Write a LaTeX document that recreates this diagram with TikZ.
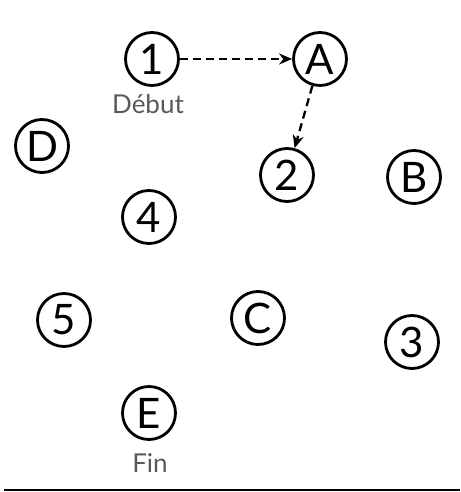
\documentclass[tikz,border=0pt]{standalone}
\usepackage{fontspec}
\setmainfont{Lato}
\usetikzlibrary{arrows.meta}
\begin{document}
\begin{tikzpicture}[x=1pt,y=1pt,
  st/.style={circle,draw,line width=2.8pt,minimum size=53pt,inner sep=0pt,font=\fontsize{42}{42}\selectfont},
  lbl/.style={text=black!65,font=\fontsize{26}{26}\selectfont},
  dar/.style={-{Stealth[length=13pt,width=11pt]},dashed,dash pattern=on 8pt off 5pt,line width=2.3pt}]
\useasboundingbox (0,0) rectangle (460,492);
\node[st] (n1) at (152,433) {1};
\node[st] (nA) at (320,433) {A};
\node[st] (nD) at (42,346) {D};
\node[st] (n2) at (287,317) {2};
\node[st] (nB) at (414,315) {B};
\node[st] (n4) at (149,275) {4};
\node[st] (n5) at (64,172) {5};
\node[st] (nC) at (258,174) {C};
\node[st] (n3) at (412,150) {3};
\node[st] (nE) at (149,79) {E};
\node[lbl] (deb) at (148,388) {Début};
\node[lbl] (fin) at (150,29) {Fin};
\coordinate (la) at (4,2);
\coordinate (lb) at (460,2);
\draw[line width=2.6pt] (la) -- (lb);
\draw[dar] (n1) -- (nA);
\draw[dar] (nA) -- (n2);
\end{tikzpicture}
\end{document}
